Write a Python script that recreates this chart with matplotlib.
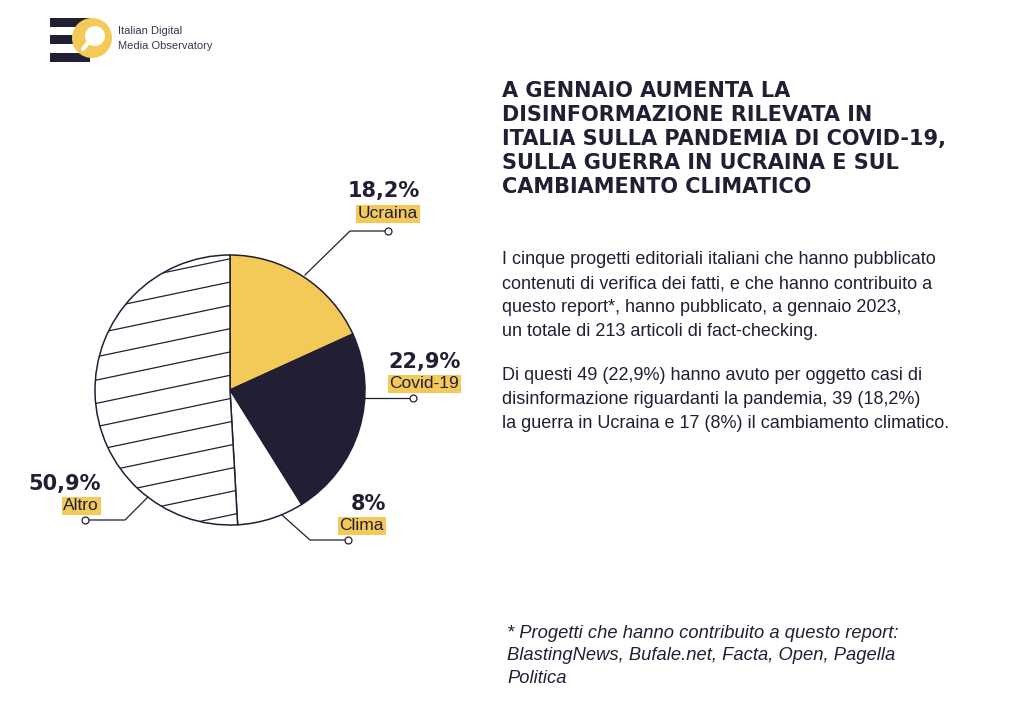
import numpy as np
import matplotlib
matplotlib.use('Agg')
import matplotlib.pyplot as plt
from matplotlib.patches import Circle, Rectangle

# dati del grafico
categorie = ['Ucraina', 'Covid-19', 'Clima', 'Altro']
percentuali = [18.2, 22.9, 8.0, 50.9]
etichette_pct = ['18,2%', '22,9%', '8%', '50,9%']

titolo = ('A GENNAIO AUMENTA LA\nDISINFORMAZIONE RILEVATA IN\n'
          'ITALIA SULLA PANDEMIA DI COVID-19,\nSULLA GUERRA IN UCRAINA E SUL\n'
          'CAMBIAMENTO CLIMATICO')
testo_1 = ('I cinque progetti editoriali italiani che hanno pubblicato\n'
           'contenuti di verifica dei fatti, e che hanno contribuito a\n'
           'questo report*, hanno pubblicato, a gennaio 2023,\n'
           'un totale di 213 articoli di fact-checking.')
testo_2 = ('Di questi 49 (22,9%) hanno avuto per oggetto casi di\n'
           'disinformazione riguardanti la pandemia, 39 (18,2%)\n'
           'la guerra in Ucraina e 17 (8%) il cambiamento climatico.')
nota = ('* Progetti che hanno contribuito a questo report:\n'
        'BlastingNews, Bufale.net, Facta, Open, Pagella\nPolitica')

GIALLO = '#F3CA57'
BLU = '#221F35'
W, H = 1024, 717


def Y(y):
    # coordinate in pixel dall'alto -> coordinate dal basso
    return H - y


fig = plt.figure(figsize=(10.24, 7.17), dpi=100)
ax = fig.add_axes([0, 0, 1, 1])

cx, cy, r = 230, Y(390), 135
wedges, _ = ax.pie(percentuali, colors=[GIALLO, BLU, 'white', 'white'],
                   startangle=90, counterclock=False, center=(cx, cy), radius=r,
                   wedgeprops=dict(edgecolor=BLU, linewidth=1.1))
ax.set_xlim(0, W)
ax.set_ylim(0, H)
ax.set_aspect('auto')
ax.axis('off')

# tratteggio inclinato dentro lo spicchio "Altro"
altro = wedges[3]
xs = np.array([cx - r - 10, cx + r + 10])
for off in np.arange(-r - 60, r + 60, 23.3):
    ln, = ax.plot(xs, cy + off + 0.21 * (xs - cx), color=BLU, lw=0.9, zorder=3)
    ln.set_clip_path(altro)

# linee guida con cerchietto finale
guide = [
    ([305, 350, 388], [275, 231, 231]),
    ([365, 413], [398, 398]),
    ([282, 310, 348], [515, 540, 540]),
    ([148, 125, 85], [497, 520, 520]),
]
for gx, gy in guide:
    ax.plot(gx, [Y(v) for v in gy], color=BLU, lw=0.9, zorder=4)
    ax.plot(gx[-1], Y(gy[-1]), 'o', ms=5, mfc='white', mec=BLU, mew=0.9, zorder=5)

# etichette
pos_etichette = [(420, 191, 214), (461, 362, 384), (386, 504, 526), (101, 484, 506)]
for (xr, yp, yl), pct, cat in zip(pos_etichette, etichette_pct, categorie):
    ax.text(xr, Y(yp), pct, ha='right', va='center', fontsize=15,
            fontweight='bold', color=BLU, family='DejaVu Sans')
    ax.text(xr - 2, Y(yl), cat, ha='right', va='center', fontsize=12.5,
            color=BLU, family='Liberation Sans',
            bbox=dict(facecolor=GIALLO, edgecolor='none', pad=1.3))

# titolo e testi
ax.text(502, Y(81), titolo, ha='left', va='top', fontsize=15, fontweight='bold',
        color=BLU, family='DejaVu Sans', linespacing=1.25)
ax.text(502, Y(251), testo_1, ha='left', va='top', fontsize=13,
        color=BLU, family='Liberation Sans', linespacing=1.55)
ax.text(502, Y(367), testo_2, ha='left', va='top', fontsize=13,
        color=BLU, family='Liberation Sans', linespacing=1.55)
ax.text(507, Y(625), nota, ha='left', va='top', fontsize=13.2, style='italic',
        color=BLU, family='Liberation Sans', linespacing=1.42)

# logo
for yb in [18, 35, 53]:
    ax.add_patch(Rectangle((50, Y(yb + 9)), 40, 9, facecolor=BLU, edgecolor='none'))
ax.add_patch(Circle((92, Y(38)), 20, facecolor=GIALLO, edgecolor='none', zorder=3))
ax.add_patch(Circle((95, Y(36)), 10, facecolor='white', edgecolor='none', zorder=4))
ax.plot([88, 83], [Y(43), Y(49)], color='white', lw=3, zorder=4, solid_capstyle='round')
ax.text(118, Y(31), 'Italian Digital', ha='left', va='center', fontsize=8,
        color='#3A3850', family='Liberation Sans')
ax.text(118, Y(46), 'Media Observatory', ha='left', va='center', fontsize=8,
        color='#3A3850', family='Liberation Sans')

fig.savefig('out.png', dpi=100, facecolor='white')
